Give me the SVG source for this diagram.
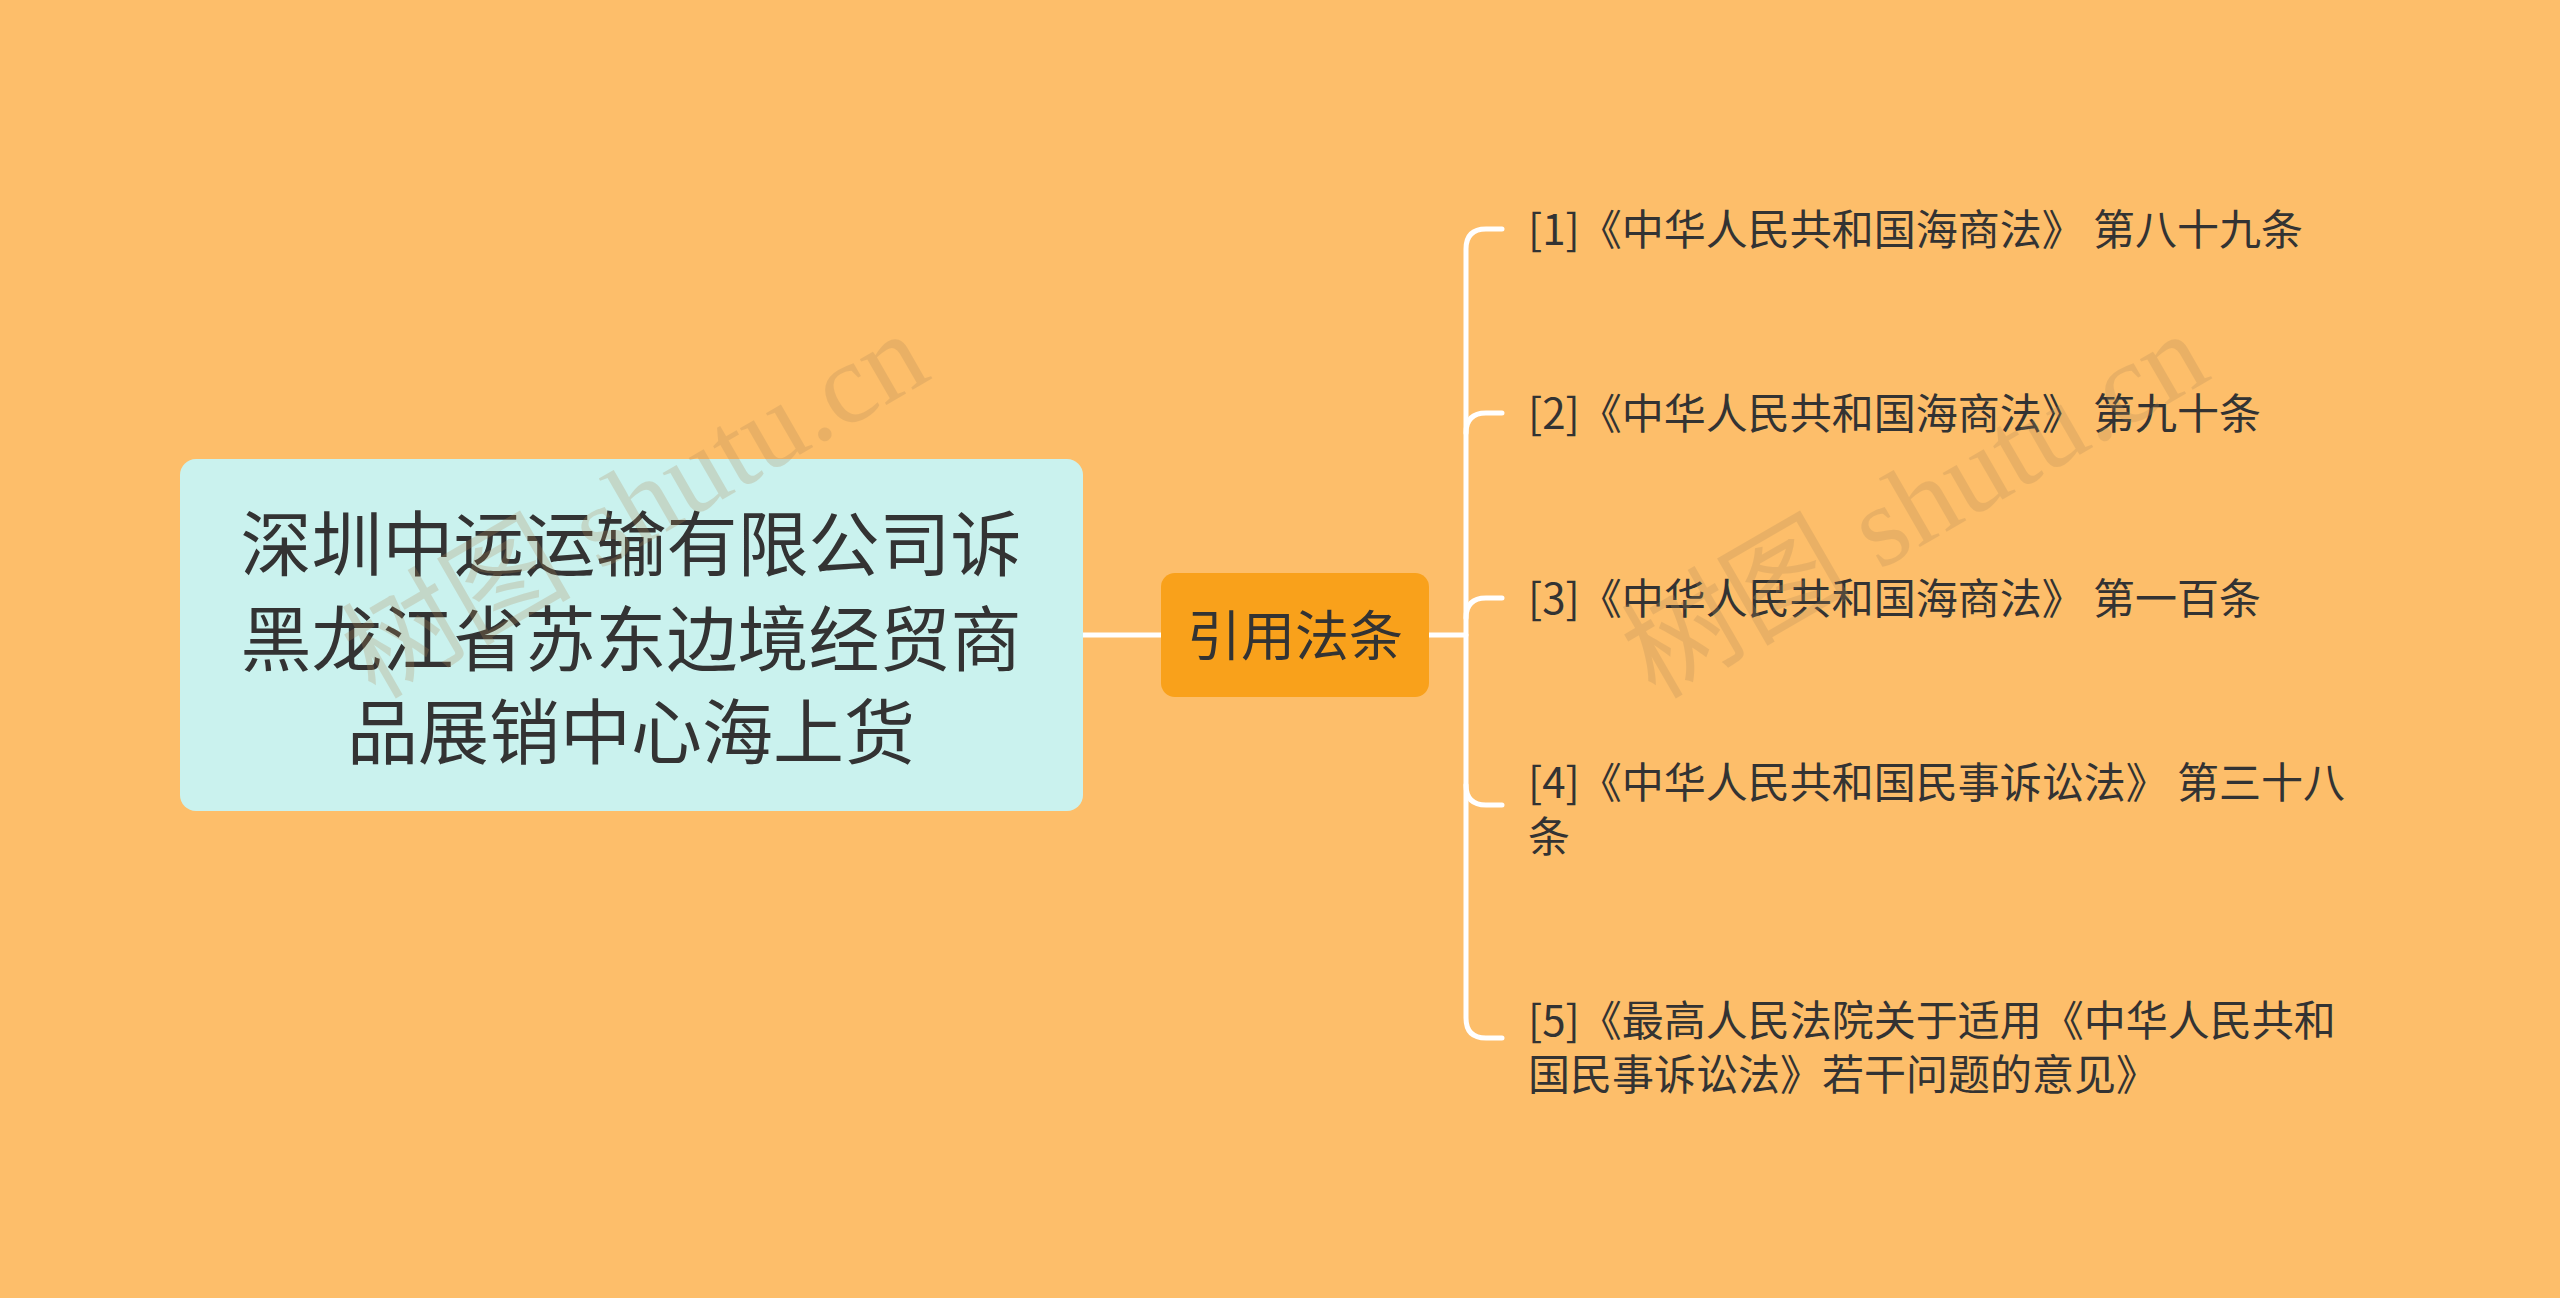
<svg xmlns="http://www.w3.org/2000/svg" width="2560" height="1298" viewBox="0 0 2560 1298">
<style>
text{font-family:"Noto Sans CJK SC","Noto Sans",sans-serif;fill:#333}
.leaf{font-size:42px}
.ln{fill:none;stroke:#fff;stroke-width:5;stroke-linecap:round}
.wm{font-size:115px;fill:#b08a5a;opacity:0.25;font-family:"Liberation Serif","Noto Sans CJK SC",serif}
</style>
<rect width="2560" height="1298" fill="#fdbe6a"/>
<g id="connectors">
<path class="ln" d="M1083 635H1161"/>
<path class="ln" d="M1429 635H1466"/>
<path class="ln" d="M1502 229H1486Q1466 229 1466 249V1018Q1466 1038 1486 1038H1502"/>
<path class="ln" d="M1466 433Q1466 413 1486 413H1502"/>
<path class="ln" d="M1466 618Q1466 598 1486 598H1502"/>
<path class="ln" d="M1466 785Q1466 805 1486 805H1502"/>
</g>
<g id="root">
<rect x="180" y="459" width="903" height="352" rx="16" fill="#caf2ee"/>
<text x="631" y="539" font-size="71" text-anchor="middle" dominant-baseline="central">深圳中远运输有限公司诉</text>
<text x="631" y="634" font-size="71" text-anchor="middle" dominant-baseline="central">黑龙江省苏东边境经贸商</text>
<text x="631" y="727" font-size="71" text-anchor="middle" dominant-baseline="central">品展销中心海上货</text>
</g>
<g id="mid">
<rect x="1161" y="573" width="268" height="124" rx="14" fill="#f9a11b"/>
<text x="1295" y="632" font-size="54" text-anchor="middle" dominant-baseline="central">引用法条</text>
</g>
<g id="leaf1"><text class="leaf" x="1528" y="226" dominant-baseline="central">[1]《中华人民共和国海商法》 第八十九条</text></g>
<g id="leaf2"><text class="leaf" x="1528" y="410" dominant-baseline="central">[2]《中华人民共和国海商法》 第九十条</text></g>
<g id="leaf3"><text class="leaf" x="1528" y="595" dominant-baseline="central">[3]《中华人民共和国海商法》 第一百条</text></g>
<g id="leaf4"><text class="leaf" x="1528" y="779" dominant-baseline="central">[4]《中华人民共和国民事诉讼法》 第三十八</text><text class="leaf" x="1528" y="833" dominant-baseline="central">条</text></g>
<g id="leaf5"><text class="leaf" x="1528" y="1017" dominant-baseline="central">[5]《最高人民法院关于适用《中华人民共和</text><text class="leaf" x="1528" y="1071" dominant-baseline="central">国民事诉讼法》若干问题的意见》</text></g>
<text class="wm" transform="translate(375,700) rotate(-30)">树图 shutu.cn</text>
<text class="wm" transform="translate(1655,700) rotate(-30)">树图 shutu.cn</text>
</svg>
